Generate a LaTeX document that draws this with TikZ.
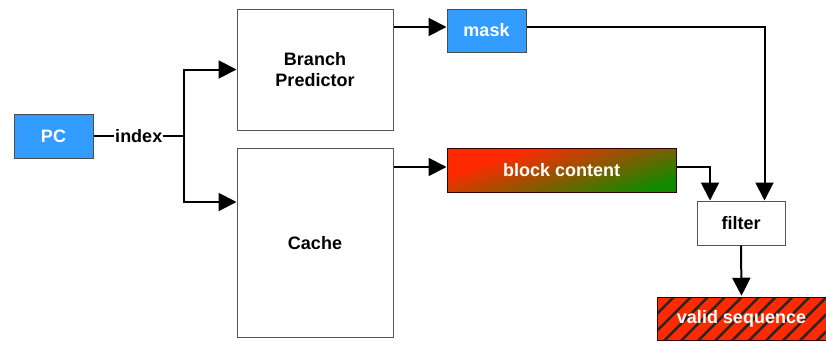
\documentclass[tikz,border=0pt]{standalone}
\usepackage{fontspec}
\setmainfont{Liberation Sans}
\usetikzlibrary{arrows.meta,patterns.meta}
\definecolor{pcblue}{HTML}{339CFF}
\definecolor{hotred}{HTML}{FF2A00}
\definecolor{leaf}{HTML}{118A00}
\definecolor{edge}{HTML}{555555}
% red that turns green towards one corner
\pgfdeclarehorizontalshading{redtogreen}{100bp}{%
  color(0bp)=(hotred); color(25bp)=(hotred); color(33bp)=(hotred);
  color(75bp)=(leaf); color(100bp)=(leaf)}
\tikzset{
  labelfont/.style={font=\fontsize{18}{21.5}\selectfont\bfseries},
  blockbox/.style={draw=edge, line width=1pt, minimum width=#1, inner sep=0pt,
    align=center, labelfont},
  bluebox/.style={blockbox=#1, fill=pcblue, text=white, draw=black!70},
  wire/.style={line width=2pt, black},
  arrow/.style={wire, -{Triangle[length=18pt,width=18pt]}},
}
\begin{document}
\begin{tikzpicture}[x=1pt,y=-1pt]
\useasboundingbox (0,0) rectangle (826,343);

% functional units
\node[bluebox=79pt, minimum height=44pt] (pc) at (53.5,136) {PC};
\node[blockbox=156pt, minimum height=121pt] (bp) at (315,69.5) {Branch\\Predictor};
\node[blockbox=156pt, minimum height=189pt] (cache) at (315,243) {Cache};
\node[bluebox=79pt, minimum height=43pt] (mask) at (486.5,30.5) {mask};
\node[blockbox=229pt, minimum height=44pt, draw=black!80!red, text=white,
      shading=redtogreen, shading angle=-72]
      (blk) at (561.5,170) {block content};
\node[blockbox=88pt, minimum height=44pt] (filter) at (741,223) {filter};
\node[blockbox=169pt, minimum height=43pt, draw=black!80!red,
      preaction={fill=hotred},
      pattern={Lines[angle=45, distance=12pt, line width=2.5pt]}, pattern color=black!85]
      (valid) at (741.5,318.5) {};
\node[labelfont, text=white] (validtxt) at (valid.center) {valid sequence};

% index fan-out
\coordinate (split) at (184,136);
\draw[wire] (pc.east) -- node[fill=white, inner sep=1pt, labelfont] (idx) {index} (split);
\draw[arrow] (split) |- (bp.west);
\draw[arrow] (split) |- ([yshift=41pt]cache.west);

% outputs of the lookups
\coordinate (maskin) at ([yshift=3.5pt]mask.west);
\draw[arrow] (bp.east |- maskin) -- (maskin);
\coordinate (blkin) at ([yshift=3pt]blk.west);
\draw[arrow] (cache.east |- blkin) -- (blkin);

% into the filter
\draw[arrow] ([yshift=3.5pt]mask.east) -| ([xshift=23.5pt]filter.north);
\draw[arrow] ([yshift=3pt]blk.east) -| ([xshift=-31pt]filter.north);
\draw[arrow] (filter.south) -- (valid.north);
\end{tikzpicture}
\end{document}
